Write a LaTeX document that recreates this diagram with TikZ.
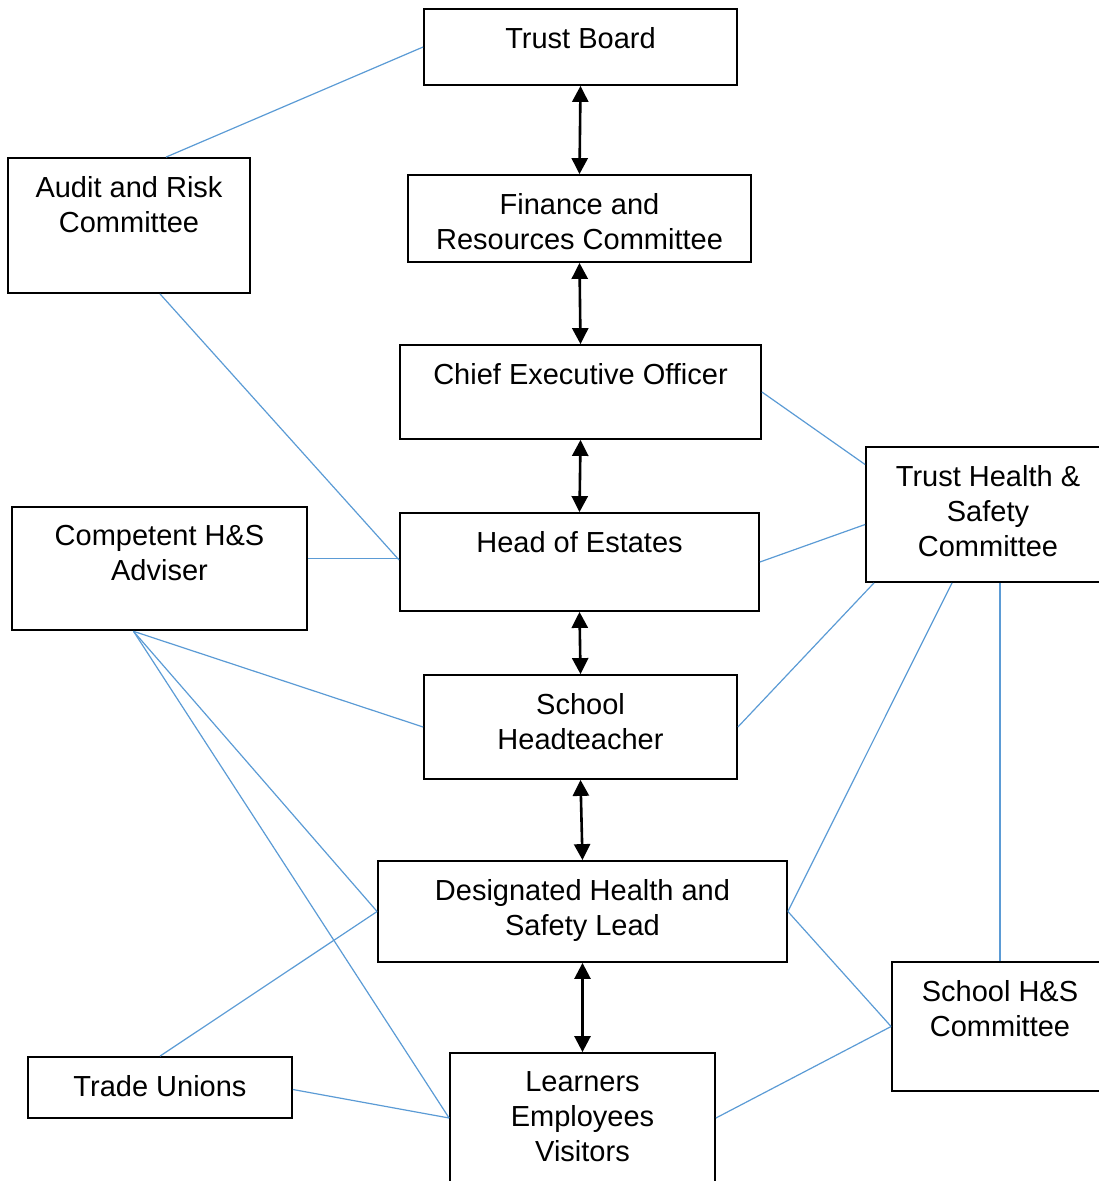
\documentclass[tikz,border=0pt]{standalone}
\usepackage{fontspec}
\setmainfont{Liberation Sans}
\usepackage{tikz}
\usetikzlibrary{arrows.meta,positioning}

\definecolor{linkblue}{HTML}{5B9BD5}

\begin{document}
\begin{tikzpicture}[x=1pt, y=-1pt,
    box/.style={draw, line width=1.8pt, inner sep=0pt},
    lbl/.style={inner sep=0pt, align=center, font=\fontsize{29}{35}\selectfont},
    tie/.style={line width=2.6pt, {Triangle[width=16pt,length=16pt]}-{Triangle[width=16pt,length=16pt]}},
    link/.style={draw=linkblue, line width=1.2pt}]
  \useasboundingbox (0,0) rectangle (1099,1181);
  \clip (0,0) rectangle (1099,1181);

  % Main chain
  \node[box, minimum width=313, minimum height=76] (board) at (580.5,47) {};
  \node[lbl, below=19pt of board.north] (boardtxt) {Trust Board};

  \node[box, minimum width=343, minimum height=87] (finance) at (579.5,218.5) {};
  \node[lbl, below=19pt of finance.north] (financetxt) {Finance and\\Resources Committee};

  \node[box, minimum width=361, minimum height=94] (ceo) at (580.5,392) {};
  \node[lbl, below=19pt of ceo.north] (ceotxt) {Chief Executive Officer};

  \node[box, minimum width=359, minimum height=98] (estates) at (579.5,562) {};
  \node[lbl, below=19pt of estates.north] (estatestxt) {Head of Estates};

  \node[box, minimum width=313, minimum height=104] (head) at (580.5,727) {};
  \node[lbl, below=19pt of head.north] (headtxt) {School\\Headteacher};

  \node[box, minimum width=409, minimum height=101] (lead) at (582.5,911.5) {};
  \node[lbl, below=19pt of lead.north] (leadtxt) {Designated Health and\\Safety Lead};

  \node[box, minimum width=265, minimum height=130] (people) at (582.5,1118) {};
  \node[lbl, below=19pt of people.north] (peopletxt) {Learners\\Employees\\Visitors};

  % Side boxes
  \node[box, minimum width=242, minimum height=135] (audit) at (129,225.5) {};
  \node[lbl, below=19pt of audit.north] (audittxt) {Audit and Risk\\Committee};

  \node[box, line width=2.6pt, minimum width=295, minimum height=123] (adviser) at (159.5,568.5) {};
  \node[lbl, below=19pt of adviser.north] (advisertxt) {Competent H\&S\\Adviser};

  \node[box, minimum width=244, minimum height=135] (trusths) at (988,514.5) {};
  \node[lbl, below=19pt of trusths.north] (trusthstxt) {Trust Health \&\\Safety\\Committee};

  \node[box, minimum width=216, minimum height=129] (schoolhs) at (1000,1026.5) {};
  \node[lbl, below=19pt of schoolhs.north] (schoolhstxt) {School H\&S\\Committee};

  \node[box, minimum width=264, minimum height=61] (unions) at (160,1087.5) {};
  \node[lbl, below=19pt of unions.north] (unionstxt) {Trade Unions};

  % Two-way arrows
  \draw[tie] (board.south) -- (finance.north);
  \draw[tie] (finance.south) -- (ceo.north);
  \draw[tie] (ceo.south) -- (estates.north);
  \draw[tie] (estates.south) -- (head.north);
  \draw[tie] (head.south) -- (lead.north);
  \draw[tie] (lead.south) -- (people.north);

  % Blue links
  \draw[link] (board.west) -- ([xshift=37pt]audit.north);
  \draw[link] ([xshift=31pt]audit.south) -- ([yshift=2pt]estates.west);
  \draw[link] ([yshift=10pt]adviser.east) -- ([yshift=3.5pt]estates.west);
  \draw[link] (ceo.east) -- ([yshift=50pt]trusths.west);
  \draw[link] (estates.east) -- ([yshift=-10pt]trusths.west);
  \draw[link] (head.east) -- ([xshift=-114pt]trusths.south);
  \draw[link] (lead.east) -- ([xshift=-36pt]trusths.south);
  \draw[link] (trusths.south -| schoolhs.north) -- (schoolhs.north);
  \draw[link] (lead.east) -- (schoolhs.west);
  \draw[link] (people.east) -- (schoolhs.west);
  \draw[link] ([xshift=-26pt]adviser.south) -- (head.west);
  \draw[link] ([xshift=-26pt]adviser.south) -- (lead.west);
  \draw[link] ([xshift=-26pt]adviser.south) -- (people.west);
  \draw[link] (lead.west) -- (unions.north);
  \draw[link] ([yshift=-2pt]unions.east) -- (people.west);
\end{tikzpicture}
\end{document}
